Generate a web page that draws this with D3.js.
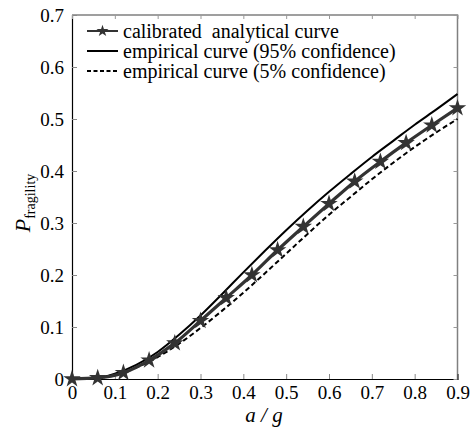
<!DOCTYPE html>
<html>
<head>
<meta charset="utf-8">
<script src="https://cdn.jsdelivr.net/npm/d3@7"></script>
<style>
  html, body { margin: 0; padding: 0; background: #fff; }
</style>
</head>
<body>
<svg id="chart" width="470" height="434"></svg>
<script>
// Calibrated analytical fragility curve (star markers)
const analyticalX = [0, 0.06, 0.12, 0.18, 0.24, 0.30, 0.36, 0.42, 0.48, 0.54, 0.60, 0.66, 0.72, 0.78, 0.84, 0.90];
const analyticalP = [0, 0.002, 0.012, 0.036, 0.069, 0.112, 0.156, 0.200, 0.248, 0.293, 0.337, 0.380, 0.418, 0.454, 0.488, 0.521];

// Empirical fragility curves
const empiricalX = [0, 0.05, 0.10, 0.15, 0.20, 0.25, 0.30, 0.35, 0.40, 0.45, 0.50, 0.55, 0.60, 0.65, 0.70, 0.75, 0.80, 0.85, 0.90];
const empirical95 = [0, 0.001, 0.010, 0.027, 0.052, 0.085, 0.122, 0.163, 0.205, 0.246, 0.286, 0.324, 0.360, 0.394, 0.427, 0.458, 0.489, 0.518, 0.548];
const empirical05 = [0, 0.001, 0.008, 0.022, 0.042, 0.068, 0.098, 0.131, 0.166, 0.203, 0.241, 0.279, 0.316, 0.350, 0.384, 0.416, 0.446, 0.474, 0.500];

const xTicks = [0, 0.1, 0.2, 0.3, 0.4, 0.5, 0.6, 0.7, 0.8, 0.9];
const yTicks = [0, 0.1, 0.2, 0.3, 0.4, 0.5, 0.6, 0.7];
const legendLabels = ["calibrated  analytical curve", "empirical curve (95% confidence)", "empirical curve (5% confidence)"];

const SERIF = "'Liberation Serif', 'Times New Roman', Tinos, 'DejaVu Serif', serif";

const svg = d3.select("#chart");
const L = 72, R = 457.5, T = 15, B = 379;

const x = d3.scaleLinear().domain([0, 0.9]).range([L, R]);
const y = d3.scaleLinear().domain([0, 0.7]).range([B, T]);

// frame: top/right in grey
svg.append("path")
  .attr("d", `M${L},${T}H${R}V${B}`)
  .attr("fill", "none").attr("stroke", "#808080").attr("stroke-width", 1.5);

// axes with inward ticks
const fmt = d => d === 0 ? "0" : d3.format(".1f")(d);
const xAxis = svg.append("g").attr("transform", `translate(0,${B})`)
  .call(d3.axisBottom(x).tickValues(xTicks).tickSize(-5).tickPadding(7).tickFormat(fmt));
const yAxis = svg.append("g").attr("transform", `translate(${L},0)`)
  .call(d3.axisLeft(y).tickValues(yTicks).tickSize(-5).tickPadding(8).tickFormat(fmt));
// mirrored ticks on top and right
svg.append("g").attr("transform", `translate(0,${T})`)
  .call(d3.axisTop(x).tickValues(xTicks).tickSize(-4).tickFormat(""))
  .call(g => g.select(".domain").remove())
  .selectAll("line").attr("stroke", "#999");
svg.append("g").attr("transform", `translate(${R},0)`)
  .call(d3.axisRight(y).tickValues(yTicks).tickSize(-4).tickFormat(""))
  .call(g => g.select(".domain").remove())
  .selectAll("line").attr("stroke", "#999");

[xAxis, yAxis].forEach(g => {
  g.attr("font-family", null);
  g.select(".domain").attr("stroke", "#000").attr("stroke-width", 1.2);
  g.selectAll(".tick line").attr("stroke", "#888");
  g.selectAll("text").attr("fill", "#000")
    .style("font-family", SERIF).style("font-size", "19px");
});

const line = d3.line().x(d => x(d[0])).y(d => y(d[1])).curve(d3.curveMonotoneX);

// empirical 5% (dashed)
svg.append("path")
  .datum(empiricalX.map((v, i) => [v, empirical05[i]]))
  .attr("d", line).attr("fill", "none")
  .attr("stroke", "#000").attr("stroke-width", 2).attr("stroke-dasharray", "5,3");

// empirical 95% (solid)
svg.append("path")
  .datum(empiricalX.map((v, i) => [v, empirical95[i]]))
  .attr("d", line).attr("fill", "none")
  .attr("stroke", "#000").attr("stroke-width", 2);

// calibrated analytical curve
const aData = analyticalX.map((v, i) => [v, analyticalP[i]]);
svg.append("path")
  .datum(aData).attr("d", line).attr("fill", "none")
  .attr("stroke", "#333").attr("stroke-width", 3.2);

const star = d3.symbol().type(d3.symbolStar).size(95);
svg.append("g").selectAll("path").data(aData).join("path")
  .attr("transform", d => `translate(${x(d[0])},${y(d[1])})`)
  .attr("d", star).attr("fill", "#333");

// legend
const lg = svg.append("g");
const rowsY = [31, 51, 71];
const lx0 = 87, lx1 = 118;
lg.append("line").attr("x1", lx0).attr("x2", lx1).attr("y1", rowsY[0]).attr("y2", rowsY[0])
  .attr("stroke", "#333").attr("stroke-width", 2);
lg.append("path").attr("transform", `translate(${(lx0 + lx1) / 2},${rowsY[0]})`)
  .attr("d", d3.symbol().type(d3.symbolStar).size(45)).attr("fill", "#333");
lg.append("line").attr("x1", lx0).attr("x2", lx1).attr("y1", rowsY[1]).attr("y2", rowsY[1])
  .attr("stroke", "#000").attr("stroke-width", 2);
lg.append("line").attr("x1", lx0).attr("x2", lx1).attr("y1", rowsY[2]).attr("y2", rowsY[2])
  .attr("stroke", "#000").attr("stroke-width", 2).attr("stroke-dasharray", "4,2.5");
lg.selectAll("text").data(legendLabels).join("text")
  .attr("x", 123).attr("y", (d, i) => rowsY[i] + 7)
  .attr("fill", "#000")
  .style("font-family", SERIF).style("font-size", "20px")
  .style("white-space", "pre").text(d => d);

// axis titles
svg.append("text").attr("x", 264).attr("y", 422).attr("text-anchor", "middle")
  .style("font-family", SERIF).style("font-size", "21px").style("font-style", "italic")
  .style("white-space", "pre").text("a / g");

const yt = svg.append("text").attr("transform", "translate(30,203) rotate(-90)")
  .attr("text-anchor", "middle").style("font-family", SERIF);
yt.append("tspan").style("font-size", "22px").style("font-style", "italic").text("P");
yt.append("tspan").style("font-size", "14px").attr("dy", 5).text("fragility");
</script>
</body>
</html>
